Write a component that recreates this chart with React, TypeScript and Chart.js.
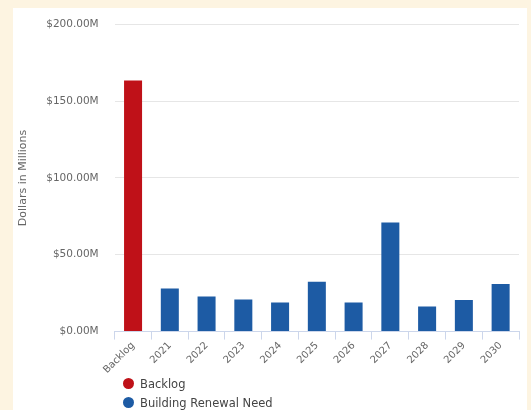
import React, { useEffect, useRef } from "react";
import { Chart, registerables } from "chart.js";

Chart.register(...registerables);

const categories = ["Backlog", "2021", "2022", "2023", "2024", "2025", "2026", "2027", "2028", "2029", "2030"];
const backlogValues = [163.5, null, null, null, null, null, null, null, null, null, null];
const renewalValues = [null, 28.0, 22.8, 20.8, 18.9, 32.4, 19.0, 71.0, 16.3, 20.6, 31.0];
const yTicks = [0, 50, 100, 150, 200];
const seriesNames = ["Backlog", "Building Renewal Need"];
const seriesColors = ["#bf1118", "#1d5ba4"];

const FONT = "'DejaVu Sans', sans-serif";

export default function App() {
  const ref = useRef<HTMLCanvasElement | null>(null);

  useEffect(() => {
    document.body.style.margin = "0";
    const ctx = ref.current;
    if (!ctx) return;
    const chart = new Chart(ctx, {
      type: "bar",
      data: {
        labels: categories,
        datasets: [
          {
            label: seriesNames[0],
            data: backlogValues as any,
            backgroundColor: seriesColors[0],
            grouped: false,
            categoryPercentage: 1,
            barPercentage: 0.49,
          },
          {
            label: seriesNames[1],
            data: renewalValues as any,
            backgroundColor: seriesColors[1],
            grouped: false,
            categoryPercentage: 1,
            barPercentage: 0.49,
          },
        ],
      },
      options: {
        animation: false,
        responsive: false,
        maintainAspectRatio: false,
        layout: { padding: { left: 4, right: 8, top: 0, bottom: 28 } },
        plugins: {
          legend: { display: false },
          tooltip: { enabled: false },
        },
        scales: {
          x: {
            grid: {
              drawOnChartArea: false,
              drawTicks: true,
              tickLength: 8,
              color: "#ccd6eb",
              offset: true,
            },
            border: { color: "#ccd6eb" },
            ticks: {
              color: "#666666",
              font: { family: FONT, size: 10 },
              minRotation: 45,
              maxRotation: 45,
              padding: 0,
            },
          },
          y: {
            min: 0,
            max: 200,
            afterBuildTicks: (axis: any) => {
              axis.ticks = yTicks.map((v) => ({ value: v }));
            },
            grid: { color: "#e6e6e6", drawTicks: false },
            border: { display: false },
            ticks: {
              color: "#666666",
              font: { family: FONT, size: 10.5 },
              padding: 16,
              callback: (v: any) => "$" + Number(v).toFixed(2) + "M",
            },
            title: {
              display: true,
              text: "Dollars in Millions",
              color: "#666666",
              font: { family: FONT, size: 11 },
              padding: { top: 0, bottom: 0 },
            },
          },
        },
      },
    });
    return () => chart.destroy();
  }, []);

  return (
    <div
      style={{
        position: "relative",
        width: 531,
        height: 410,
        background: "#fdf4e1",
        overflow: "hidden",
      }}
    >
      <div
        style={{
          position: "absolute",
          left: 13,
          top: 8,
          width: 514,
          height: 402,
          background: "#ffffff",
        }}
      />
      <canvas
        ref={ref}
        width={514}
        height={402}
        style={{ position: "absolute", left: 13, top: 2, display: "block" }}
      />
      <div
        style={{
          position: "absolute",
          left: 123,
          top: 374,
          fontFamily: FONT,
          fontSize: 11.5,
          color: "#444",
        }}
      >
        {seriesNames.map((n, i) => (
          <div key={n} style={{ display: "flex", alignItems: "center", height: 19 }}>
            <span
              style={{
                display: "inline-block",
                width: 11,
                height: 11,
                borderRadius: "50%",
                background: seriesColors[i],
                marginRight: 6,
              }}
            />
            <span>{n}</span>
          </div>
        ))}
      </div>
    </div>
  );
}
